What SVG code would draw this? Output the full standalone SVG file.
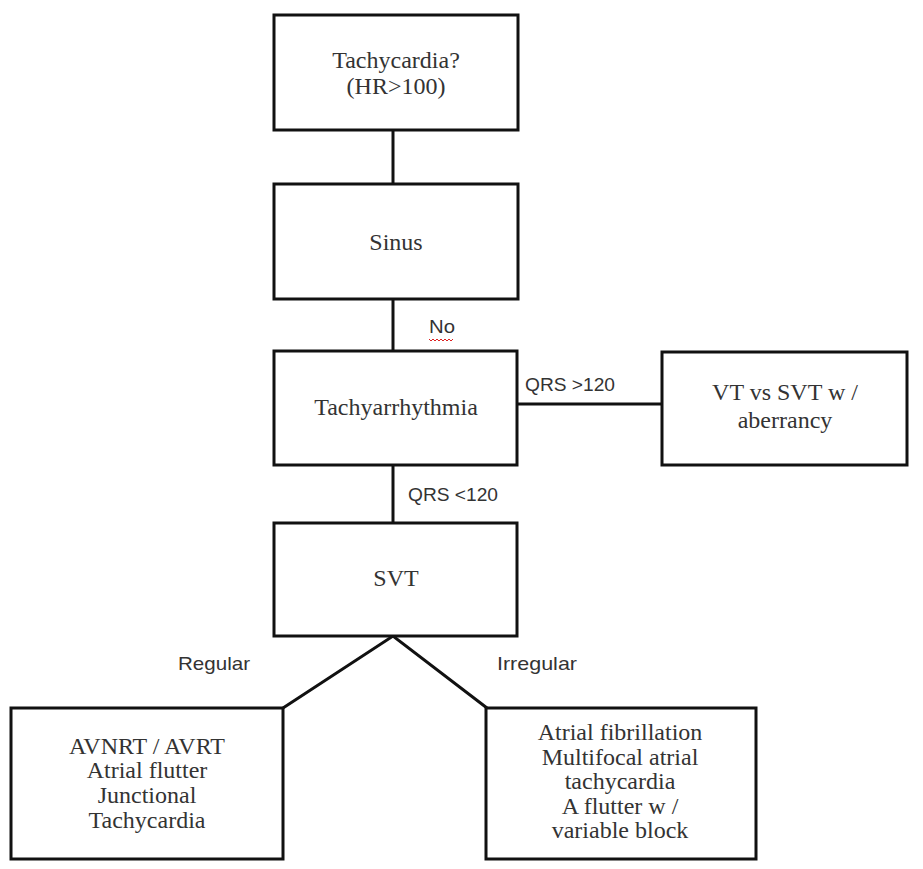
<svg xmlns="http://www.w3.org/2000/svg" width="923" height="869" viewBox="0 0 923 869">
<style>
.box{fill:#fff;stroke:#111;stroke-width:3}
.t{font-family:"Liberation Serif","DejaVu Serif",serif;font-size:24px;fill:#333;text-anchor:middle}
.l{font-family:"Liberation Sans","DejaVu Sans",sans-serif;font-size:19px;fill:#333}
.c{fill:none;stroke:#111;stroke-width:3}
</style>
<rect width="923" height="869" fill="#fff"/>
<g id="connectors">
<line class="c" x1="393" y1="130" x2="393" y2="184"/>
<line class="c" x1="393" y1="299" x2="393" y2="351"/>
<line class="c" x1="517" y1="404" x2="662" y2="404"/>
<line class="c" x1="393" y1="465" x2="393" y2="523"/>
<polyline class="c" points="283,708 393,636 487,708"/>
<text class="l" x="429" y="333" textLength="26" lengthAdjust="spacingAndGlyphs">No</text>
<path d="M429,339 l2,2 l2,-2 l2,2 l2,-2 l2,2 l2,-2 l2,2 l2,-2 l2,2 l2,-2 l2,2 l2,-2" fill="none" stroke="#d22" stroke-width="1"/>
<text class="l" x="525" y="391" textLength="90" lengthAdjust="spacingAndGlyphs">QRS &gt;120</text>
<text class="l" x="408" y="501" textLength="90" lengthAdjust="spacingAndGlyphs">QRS &lt;120</text>
<text class="l" x="178" y="670" textLength="72" lengthAdjust="spacingAndGlyphs">Regular</text>
<text class="l" x="497" y="670" textLength="80" lengthAdjust="spacingAndGlyphs">Irregular</text>
</g>
<g id="n1"><rect class="box" x="274" y="15" width="244" height="115"/>
<text class="t" x="396" y="68">Tachycardia?</text><text class="t" x="396" y="94">(HR&gt;100)</text></g>
<g id="n2"><rect class="box" x="274" y="184" width="244" height="115"/>
<text class="t" x="396" y="250">Sinus</text></g>
<g id="n3"><rect class="box" x="274" y="351" width="243" height="114"/>
<text class="t" x="396" y="415">Tachyarrhythmia</text></g>
<g id="n4"><rect class="box" x="662" y="352" width="245" height="113"/>
<text class="t" x="785" y="400">VT vs SVT w /</text><text class="t" x="785" y="428">aberrancy</text></g>
<g id="n5"><rect class="box" x="274" y="523" width="243" height="113"/>
<text class="t" x="396" y="586">SVT</text></g>
<g id="n6"><rect class="box" x="11" y="708" width="272" height="151"/>
<text class="t" x="147" y="754">AVNRT / AVRT</text><text class="t" x="147" y="778">Atrial flutter</text><text class="t" x="147" y="803">Junctional</text><text class="t" x="147" y="828">Tachycardia</text></g>
<g id="n7"><rect class="box" x="486" y="708" width="270" height="151"/>
<text class="t" x="620" y="740">Atrial fibrillation</text><text class="t" x="620" y="764.5">Multifocal atrial</text><text class="t" x="620" y="789">tachycardia</text><text class="t" x="620" y="813.5">A flutter w /</text><text class="t" x="620" y="838">variable block</text></g>
</svg>
